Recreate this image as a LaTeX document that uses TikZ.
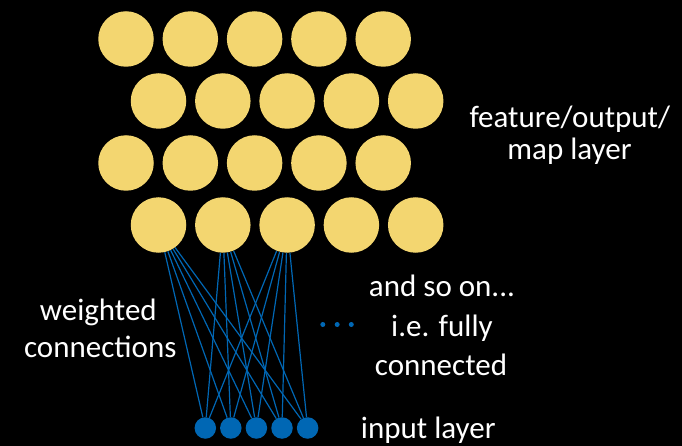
\documentclass[tikz,border=0pt]{standalone}
\usepackage{fontspec}
\setmainfont{Carlito}
\definecolor{mapyellow}{RGB}{243,214,112}
\definecolor{inblue}{RGB}{0,103,180}
\tikzset{
  fmap/.style={circle,fill=mapyellow,minimum size=55.5pt,inner sep=0pt},
  inp/.style={circle,fill=inblue,minimum size=21.5pt,inner sep=0pt},
  conn/.style={inblue,line width=1.2pt},
  smalldot/.style={circle,fill=inblue,minimum size=5pt,inner sep=0pt},
  lbl/.style={white,anchor=base,inner sep=0pt,font=\fontsize{31}{37}\selectfont}
}
\begin{document}
\begin{tikzpicture}[x=1pt,y=-1pt]
  % fondo
  \fill[black] (0,0) rectangle (682,446);
  \useasboundingbox (0,0) rectangle (682,446);

  % capa de salida
  \foreach \r/\y/\dx in {1/39/126,2/101/158.5,3/163/126,4/225/158.5}
    \foreach \c in {1,...,5}
      \node[fmap] (m\r\c) at ({\dx+64.3*(\c-1)},\y) {};

  % capa de entrada
  \node[inp] (in1) at (205.3,428) {};
  \node[inp] (in2) at (230.8,428) {};
  \node[inp] (in3) at (256.4,428) {};
  \node[inp] (in4) at (282.0,428) {};
  \node[inp] (in5) at (307.6,428) {};

  % conexiones
  \foreach \c in {1,2,3}
    \foreach \i in {1,...,5}
      \draw[conn] (m4\c) -- (in\i);

  % puntos
  \node[smalldot] (d1) at (322.8,324.5) {};
  \node[smalldot] (d2) at (337.2,324.5) {};
  \node[smalldot] (d3) at (351.3,324.5) {};

  % textos
  \node[lbl] (feat1) at (569.8,128) {feature/output/};
  \node[lbl] (feat2) at (569.5,159.5) {map layer};
  \node[lbl] (wt1) at (98.3,320) {weighted};
  \node[lbl] (wt2) at (100.3,357.7) {connections};
  \node[lbl] (so1) at (442,296.7) {and so on...};
  \node[lbl] (so2) at (442,336) {i.e. fully};
  \node[lbl] (so3) at (441,375) {connected};
  \node[lbl] (inl) at (428.3,438.3) {input layer};
\end{tikzpicture}
\end{document}
